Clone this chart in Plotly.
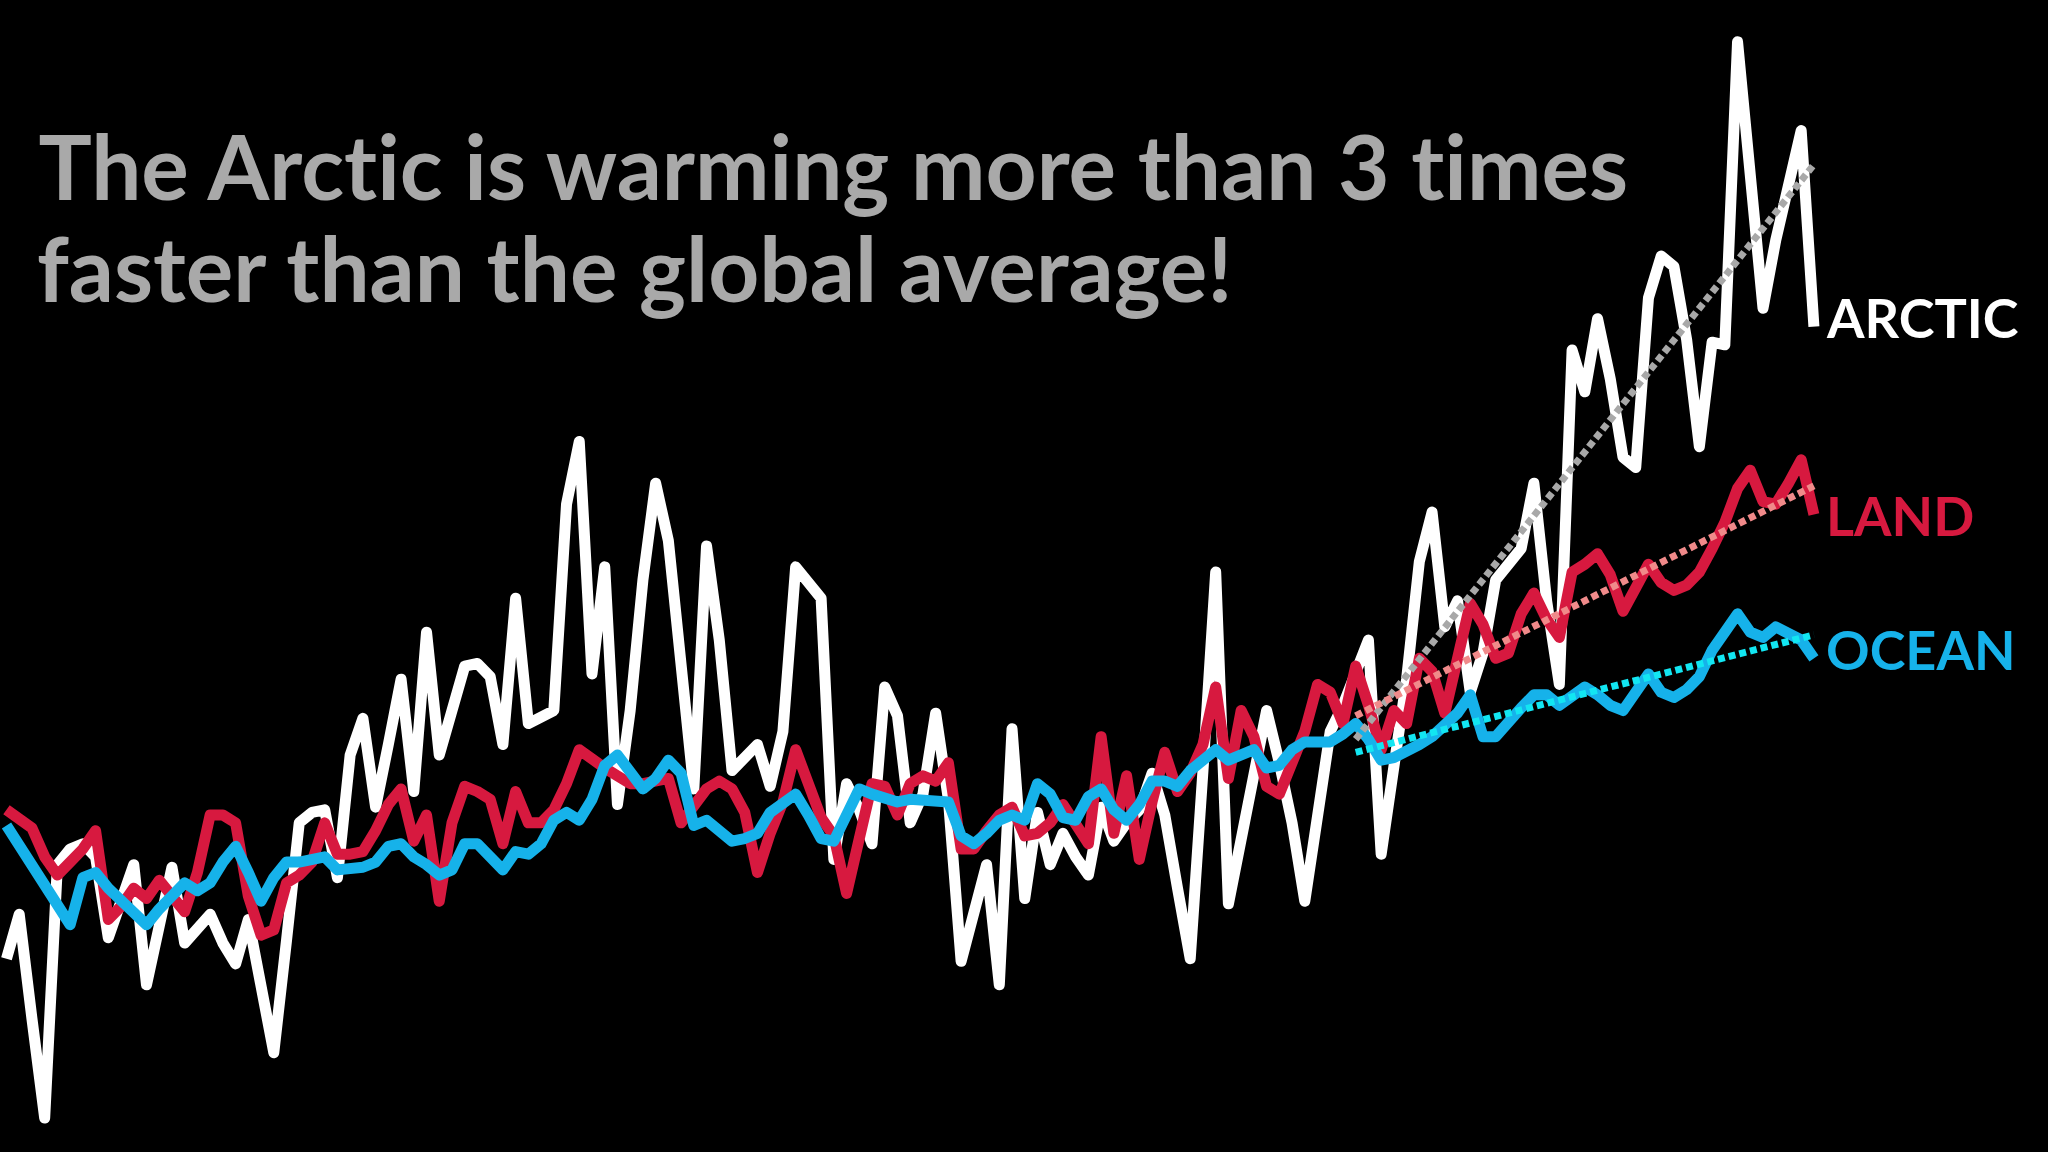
import plotly.graph_objects as go

years = list(range(1880, 2023))

arctic = [
    -0.47, -0.30, -0.70, -1.08, -0.11, -0.05, -0.03, -0.08, -0.39, -0.25,
    -0.11, -0.57, -0.35, -0.12, -0.41, -0.35, -0.30, -0.41, -0.49, -0.32,
    -0.60, -0.83, -0.40, 0.05, 0.09, 0.10, -0.16, 0.31, 0.45, 0.11,
    0.35, 0.60, 0.17, 0.78, 0.31, 0.50, 0.65, 0.66, 0.61, 0.35,
    0.91, 0.43, 0.46, 0.48, 1.27, 1.51, 0.62, 1.03, 0.12, 0.48,
    0.98, 1.35, 1.13, 0.68, 0.18, 1.11, 0.75, 0.25, 0.30, 0.35,
    0.19, 0.40, 1.03, 0.97, 0.91, -0.09, 0.20, 0.10, -0.03, 0.57,
    0.46, 0.05, 0.16, 0.47, 0.14, -0.48, -0.30, -0.11, -0.57, 0.41,
    -0.24, 0.09, -0.11, 0.01, -0.08, -0.15, 0.11, -0.02, 0.05, 0.10,
    0.24, 0.08, -0.20, -0.47, 0.25, 1.01, -0.26, 0.00, 0.25, 0.48,
    0.28, 0.05, -0.25, 0.10, 0.40, 0.50, 0.63, 0.75, -0.07, 0.28,
    0.60, 1.05, 1.24, 0.80, 0.90, 0.55, 0.70, 0.98, 1.04, 1.10,
    1.35, 0.90, 0.58, 1.86, 1.70, 1.98, 1.75, 1.45, 1.41, 2.06,
    2.22, 2.18, 1.90, 1.49, 1.89, 1.88, 3.04, 2.50, 2.02, 2.28,
    2.50, 2.70, 1.95,
]

land = [
    0.10, 0.07, 0.03, -0.08, -0.15, -0.10, -0.05, 0.02, -0.32, -0.27,
    -0.20, -0.24, -0.17, -0.23, -0.29, -0.14, 0.08, 0.08, 0.05, -0.23,
    -0.38, -0.36, -0.18, -0.15, -0.10, 0.05, -0.07, -0.07, -0.06, 0.02,
    0.12, 0.18, -0.02, 0.08, -0.25, 0.05, 0.19, 0.17, 0.14, -0.03,
    0.17, 0.05, 0.05, 0.10, 0.20, 0.33, 0.29, 0.26, 0.23, 0.20,
    0.20, 0.21, 0.22, 0.05, 0.11, 0.18, 0.21, 0.18, 0.09, -0.14,
    0.01, 0.13, 0.33, 0.20, 0.07, 0.00, -0.22, -0.01, 0.20, 0.19,
    0.08, 0.20, 0.23, 0.21, 0.28, -0.05, -0.05, 0.02, 0.08, 0.11,
    0.00, 0.01, 0.05, 0.12, 0.05, -0.03, 0.38, 0.01, 0.23, -0.09,
    0.13, 0.32, 0.17, 0.24, 0.35, 0.57, 0.22, 0.48, 0.38, 0.19,
    0.16, 0.28, 0.40, 0.58, 0.55, 0.43, 0.65, 0.50, 0.33, 0.48,
    0.43, 0.68, 0.63, 0.47, 0.68, 0.89, 0.81, 0.68, 0.70, 0.85,
    0.93, 0.83, 0.76, 1.01, 1.04, 1.08, 1.00, 0.86, 0.95, 1.04,
    0.97, 0.94, 0.96, 1.01, 1.10, 1.20, 1.33, 1.40, 1.28, 1.27,
    1.35, 1.44, 1.23,
]

ocean = [
    0.04, -0.04, -0.11, -0.18, -0.26, -0.34, -0.16, -0.14, -0.20, -0.25,
    -0.30, -0.34, -0.28, -0.23, -0.18, -0.21, -0.18, -0.10, -0.04, -0.14,
    -0.25, -0.16, -0.10, -0.10, -0.09, -0.08, -0.13, -0.13, -0.12, -0.10,
    -0.04, -0.03, -0.08, -0.11, -0.15, -0.13, -0.03, -0.03, -0.08, -0.13,
    -0.06, -0.07, -0.03, 0.06, 0.09, 0.06, 0.14, 0.27, 0.31, 0.24,
    0.18, 0.22, 0.29, 0.24, 0.04, 0.06, 0.02, -0.02, -0.01, 0.01,
    0.09, 0.12, 0.16, 0.08, -0.01, -0.02, 0.09, 0.18, 0.16, 0.15,
    0.13, 0.14, 0.14, 0.14, 0.13, 0.00, -0.03, 0.01, 0.06, 0.08,
    0.06, 0.20, 0.16, 0.07, 0.06, 0.15, 0.18, 0.10, 0.06, 0.12,
    0.21, 0.21, 0.19, 0.25, 0.29, 0.33, 0.29, 0.31, 0.33, 0.26,
    0.27, 0.33, 0.36, 0.36, 0.36, 0.39, 0.43, 0.37, 0.29, 0.30,
    0.32, 0.35, 0.38, 0.42, 0.47, 0.54, 0.38, 0.38, 0.44, 0.49,
    0.54, 0.54, 0.50, 0.53, 0.57, 0.54, 0.50, 0.48, 0.55, 0.62,
    0.55, 0.53, 0.56, 0.61, 0.71, 0.79, 0.85, 0.78, 0.76, 0.80,
    0.78, 0.75, 0.68,
]

trend_years = [1986, 2022]
arctic_trend = [0.37, 2.57]
land_trend = [0.46, 1.34]
ocean_trend = [0.32, 0.77]

title_lines = ["The Arctic is warming more than 3 times",
               "faster than the global average!"]
series_labels = ["ARCTIC", "LAND", "OCEAN"]

WHITE = "#ffffff"
RED = "#d7193f"
BLUE = "#16b2ea"

fig = go.Figure()
for vals, col in [(arctic, WHITE), (land, RED), (ocean, BLUE)]:
    fig.add_trace(go.Scatter(x=years, y=vals, mode="lines",
                             line=dict(color=col, width=11),
                             hoverinfo="skip", showlegend=False))
for vals, col in [(arctic_trend, "#a8a8a8"), (land_trend, "#f08a8a"), (ocean_trend, "#12e6f2")]:
    fig.add_trace(go.Scatter(x=trend_years, y=vals, mode="lines",
                             line=dict(color=col, width=7, dash="7px,4px"),
                             hoverinfo="skip", showlegend=False))

title_font = dict(family="Lato", size=89, color="#a9a9a9", weight=700)
fig.add_annotation(text=title_lines[0], x=0.017, y=0.856, xref="paper", yref="paper",
                   xanchor="left", yanchor="middle", showarrow=False, font=title_font)
fig.add_annotation(text=title_lines[1], x=0.017, y=0.768, xref="paper", yref="paper",
                   xanchor="left", yanchor="middle", showarrow=False, font=title_font)

label_specs = [(series_labels[0], WHITE, 0.7248),
               (series_labels[1], RED, 0.5521),
               (series_labels[2], BLUE, 0.4366)]
for txt, col, yy in label_specs:
    fig.add_annotation(text=txt, x=0.8905, y=yy, xref="paper", yref="paper",
                       xanchor="left", yanchor="middle", showarrow=False,
                       font=dict(family="Lato", size=54, color=col, weight=700))

fig.update_layout(
    width=2048, height=1152, autosize=False,
    margin=dict(l=0, r=0, t=0, b=0, pad=0),
    paper_bgcolor="#000000", plot_bgcolor="#000000",
    xaxis=dict(range=[1879.49, 2040.39], visible=False, fixedrange=True),
    yaxis=dict(range=[-1.21, 3.2], visible=False, fixedrange=True),
    showlegend=False,
)

post = ("var s=document.createElement('style');"
        "s.innerHTML='html,body{margin:0;padding:0;background:#000;overflow:hidden;}"
        " .js-line{stroke-linejoin:round !important;}"
        " text{font-variant-ligatures:none !important;font-feature-settings:\"liga\" 0,\"clig\" 0 !important;}';"
        "document.head.appendChild(s);")
fig.write_html("out.html", config={"displayModeBar": False, "staticPlot": True}, post_script=post)
